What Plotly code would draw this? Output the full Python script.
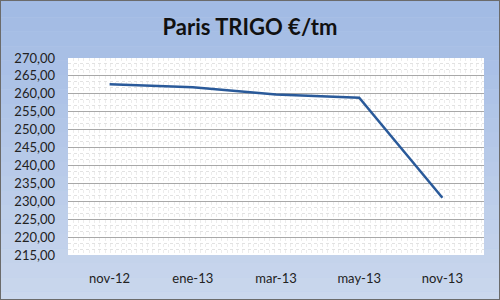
import plotly.graph_objects as go

categories = ["nov-12", "ene-13", "mar-13", "may-13", "nov-13"]
values = [262.7, 261.8, 259.8, 258.9, 231.0]
y_ticks = [215 + 5 * i for i in range(12)]
y_labels = [f"{v:.2f}".replace(".", ",") for v in y_ticks]

fig = go.Figure()
fig.add_trace(go.Scatter(
    x=categories, y=values, mode="lines",
    line=dict(color="#2a5a9a", width=2.5),
    showlegend=False, hoverinfo="skip",
))

# background gradient bands
shapes = []
top = (157, 183, 227)
bot = (214, 224, 240)
n = 30
for i in range(n):
    t = i / (n - 1)
    c = tuple(int(top[k] + (bot[k] - top[k]) * t) for k in range(3))
    shapes.append(dict(type="rect", xref="paper", yref="paper",
                       x0=-1, x1=2, y0=1.5 - (i + 1) * 2.2 / n, y1=1.5 - i * 2.2 / n,
                       fillcolor="rgb(%d,%d,%d)" % c, line=dict(width=0), layer="below"))
shapes.append(dict(type="rect", xref="paper", yref="paper", x0=0, x1=1, y0=0, y1=1,
                   fillcolor="white", line=dict(width=0), layer="below"))

fig.update_layout(
    width=500, height=300,
    margin=dict(l=68, r=16, t=58, b=45),
    paper_bgcolor="rgb(185,203,234)",
    plot_bgcolor="white",
    title=dict(text="<b>Paris TRIGO €/tm</b>", x=0.5, xanchor="center", y=0.91, yanchor="middle",
               font=dict(family="Lato, Open Sans, sans-serif", size=22, color="#111111")),
    font=dict(family="Lato, Open Sans, sans-serif", size=13, color="#222222"),
    xaxis=dict(type="category", range=[-0.5, 4.5], showgrid=False, ticks="",
               showline=False, zeroline=False, tickfont=dict(size=13),
               ticklabelstandoff=14),
    xaxis2=dict(overlaying="x", range=[0, 416], showgrid=True, gridcolor="#ececec",
                griddash="dot", gridwidth=1, dtick=5.3, showticklabels=False,
                zeroline=False, layer="below traces"),
    yaxis=dict(range=[215, 270], tickvals=y_ticks, ticktext=y_labels, showgrid=True,
               gridcolor="#a8a8a8", gridwidth=1, zeroline=False, ticks="",
               ticklabelstandoff=12, tickfont=dict(size=13),
               minor=dict(dtick=5 / 3, showgrid=True, gridcolor="#e2e2e2", griddash="dot")),
    shapes=shapes + [dict(type="rect", xref="paper", yref="paper", x0=-68/416, x1=1+16/416,
                          y0=-45/197, y1=1+58/197, line=dict(color="#6b6b6b", width=2),
                          fillcolor="rgba(0,0,0,0)")],
)
fig.add_trace(go.Scatter(x=[0, 416], y=[215, 215], xaxis="x2", mode="lines",
                         line=dict(width=0), showlegend=False, hoverinfo="skip"))
fig.write_html("out.html")
